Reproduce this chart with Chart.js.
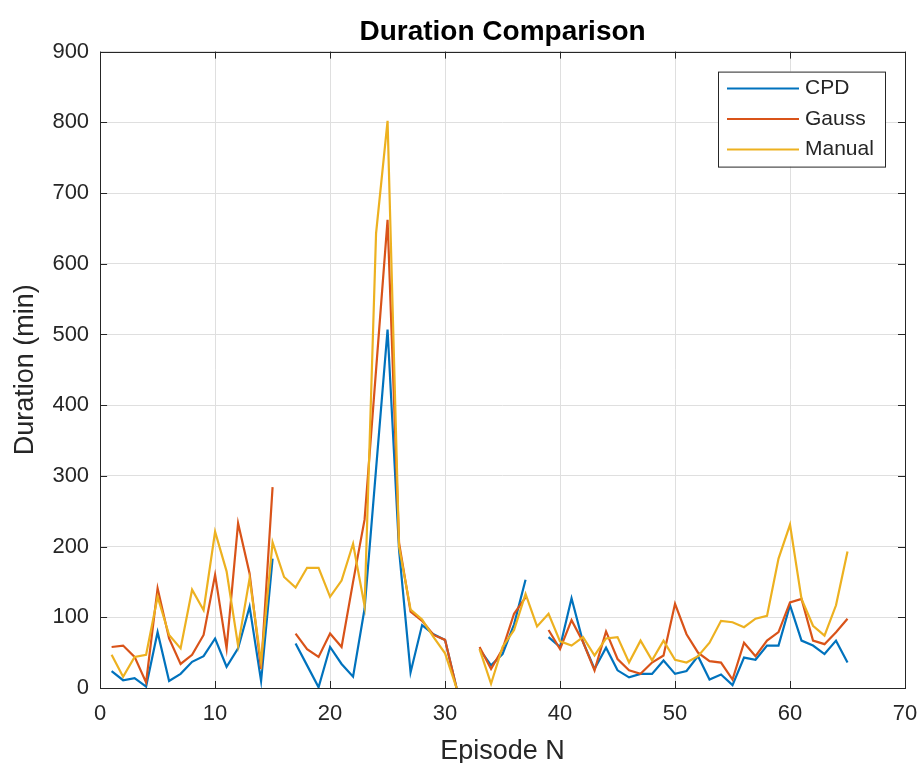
<!DOCTYPE html>
<html>
<head>
<meta charset="utf-8">
<script src="https://cdn.jsdelivr.net/npm/chart.js@4.4.1/dist/chart.umd.min.js"></script>
<style>
    html, body { margin: 0; padding: 0; background: #ffffff; }
    #wrap { width: 922px; height: 763px; }
</style>
</head>
<body>
<div id="wrap"><canvas id="durationChart" width="922" height="763"></canvas></div>
<script>
// === Data ===
const episodes = [1, 2, 3, 4, 5, 6, 7, 8, 9, 10, 11, 12, 13, 14, 15, 16, 17, 18, 19, 20,
    21, 22, 23, 24, 25, 26, 27, 28, 29, 30, 31, 32, 33, 34, 35, 36, 37, 38, 39, 40,
    41, 42, 43, 44, 45, 46, 47, 48, 49, 50, 51, 52, 53, 54, 55, 56, 57, 58, 59, 60,
    61, 62, 63, 64, 65];

const cpd = [24, 11, 14, 2, 79, 10, 20, 37, 45, 70, 30, 56, 115, 10, 183, null, 63, 32, 1, 58,
    34, 16, 112, 310, 507, 195, 22, 89, 76, 68, 0, null, 55, 32, 48, 90, 153, null, 72, 58,
    127, 65, 27, 57, 25, 15, 20, 20, 39, 20, 24, 45, 12, 19, 4, 43, 40, 60, 60, 117,
    67, 60, 48, 67, 36];

const gauss = [58, 60, 44, 8, 141, 70, 34, 47, 75, 160, 56, 233, 162, 27, 284, null, 77, 55, 44, 77,
    58, 150, 238, 450, 662, 205, 108, 95, 75, 68, 0, null, 58, 27, 55, 105, 128, null, 82, 55,
    96, 65, 25, 80, 41, 25, 20, 36, 46, 119, 76, 50, 38, 36, 12, 64, 45, 67, 79, 121,
    126, 67, 62, 79, 98];

const manual = [47, 16, 44, 47, 129, 75, 56, 139, 110, 221, 165, 60, 155, 37, 206, 157, 142, 170, 170, 129,
    152, 204, 116, 643, 802, 200, 111, 97, 72, 49, 0, null, 55, 6, 58, 82, 133, 87, 105, 66,
    60, 72, 46, 70, 72, 36, 67, 39, 67, 40, 36, 45, 64, 95, 93, 86, 98, 102, 183, 231,
    126, 88, 74, 117, 193];

const seriesNames = ['CPD', 'Gauss', 'Manual'];
const seriesColors = ['#0072BD', '#D95319', '#EDB120'];

const FONT = "'Liberation Sans', Arial, sans-serif";
const INK = '#262626';

function toPoints(values) {
    return values.map((v, i) => ({ x: episodes[i], y: v }));
}

// =========================
// Plugins: box with inward ticks, legend inside the axes
// =========================
const axesBox = {
    id: 'axesBox',
    afterDatasetsDraw(chart) {
        const { ctx, chartArea: a, scales } = chart;
        const len = 7;
        ctx.save();
        ctx.strokeStyle = INK;
        ctx.lineWidth = 1;
        ctx.beginPath();
        scales.x.ticks.forEach(t => {
            const px = Math.round(scales.x.getPixelForValue(t.value)) + 0.5;
            ctx.moveTo(px, a.bottom); ctx.lineTo(px, a.bottom - len);
            ctx.moveTo(px, a.top); ctx.lineTo(px, a.top + len);
        });
        scales.y.ticks.forEach(t => {
            const py = Math.round(scales.y.getPixelForValue(t.value)) + 0.5;
            ctx.moveTo(a.left, py); ctx.lineTo(a.left + len, py);
            ctx.moveTo(a.right, py); ctx.lineTo(a.right - len, py);
        });
        ctx.stroke();
        ctx.strokeRect(Math.round(a.left) + 0.5, Math.round(a.top) + 0.5,
            Math.round(a.right - a.left), Math.round(a.bottom - a.top));
        ctx.restore();
    }
};

const insideLegend = {
    id: 'insideLegend',
    afterDraw(chart) {
        const { ctx, chartArea: a } = chart;
        const boxW = 167, boxH = 95;
        const x0 = a.right - 20 - boxW;
        const y0 = a.top + 20;
        ctx.save();
        ctx.fillStyle = '#ffffff';
        ctx.fillRect(x0, y0, boxW, boxH);
        ctx.strokeStyle = INK;
        ctx.lineWidth = 1;
        ctx.strokeRect(x0 + 0.5, y0 + 0.5, boxW, boxH);
        ctx.font = '21px ' + FONT;
        ctx.textBaseline = 'middle';
        chart.data.datasets.forEach((ds, i) => {
            const cy = y0 + 17 + i * 30.5;
            ctx.strokeStyle = ds.borderColor;
            ctx.lineWidth = 2;
            ctx.beginPath();
            ctx.moveTo(x0 + 9, cy);
            ctx.lineTo(x0 + 81, cy);
            ctx.stroke();
            ctx.fillStyle = INK;
            ctx.fillText(ds.label, x0 + 87, cy);
        });
        ctx.restore();
    }
};

// === On load ===
document.addEventListener('DOMContentLoaded', function() {
    const ctx = document.getElementById('durationChart').getContext('2d');
    new Chart(ctx, {
        type: 'line',
        data: {
            datasets: [cpd, gauss, manual].map((vals, i) => ({
                label: seriesNames[i],
                data: toPoints(vals),
                borderColor: seriesColors[i],
                backgroundColor: seriesColors[i],
                borderWidth: 2.2,
                pointRadius: 0,
                tension: 0,
                spanGaps: false,
                order: 3 - i
            }))
        },
        options: {
            responsive: false,
            animation: false,
            layout: { padding: { left: 9, right: 17, top: 0, bottom: 0 } },
            plugins: {
                legend: { display: false },
                tooltip: { enabled: false },
                title: {
                    display: true,
                    fullSize: false,
                    text: 'Duration Comparison',
                    color: '#000000',
                    font: { family: FONT, size: 28, weight: 'bold' },
                    padding: { top: 15, bottom: 3 }
                }
            },
            scales: {
                x: {
                    type: 'linear',
                    min: 0,
                    max: 70,
                    afterFit(scale) { scale.paddingRight = 0; },
                    ticks: { stepSize: 10, color: INK, padding: 13, maxRotation: 0,
                        font: { family: FONT, size: 22 } },
                    grid: { color: '#dfdfdf', drawTicks: false },
                    border: { display: false },
                    title: { display: true, text: 'Episode N', color: INK,
                        font: { family: FONT, size: 27, lineHeight: 0.8 }, padding: { top: 0, bottom: 1 } }
                },
                y: {
                    min: 0,
                    max: 900,
                    ticks: { stepSize: 100, color: INK, padding: 11,
                        font: { family: FONT, size: 22 } },
                    grid: { color: '#dfdfdf', drawTicks: false },
                    border: { display: false },
                    title: { display: true, text: 'Duration (min)', color: INK,
                        font: { family: FONT, size: 27 }, padding: { top: 0, bottom: 0 } }
                }
            }
        },
        plugins: [axesBox, insideLegend]
    });
});
</script>
</body>
</html>
